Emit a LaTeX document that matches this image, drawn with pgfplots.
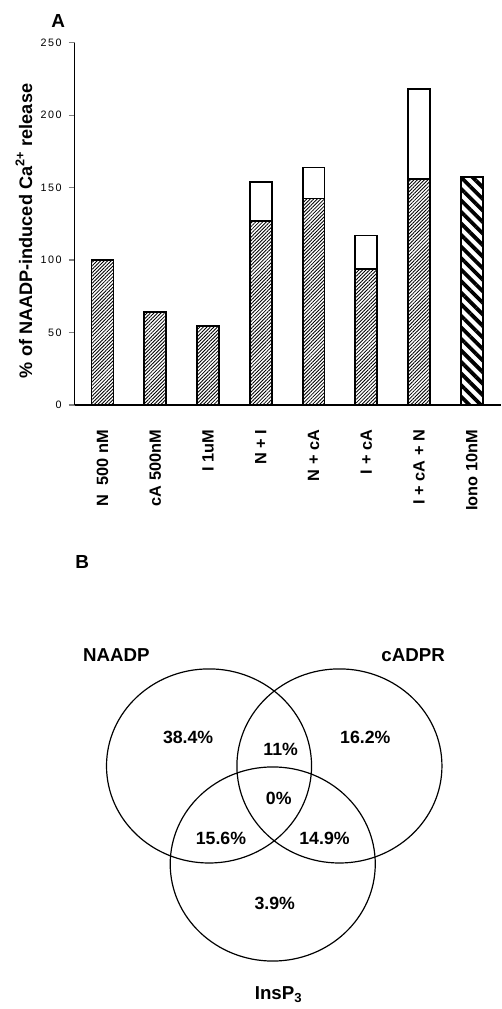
\documentclass[border=0pt]{standalone}
\usepackage{fontspec}
\setmainfont{Liberation Sans}
\newfontfamily\tickfont[LetterSpace=14]{Liberation Sans}
\usepackage{pgfplots}
\pgfplotsset{compat=1.18}
\usetikzlibrary{patterns.meta}

\begin{document}
\begin{tikzpicture}
\path (0,0) rectangle (252bp,-504.5bp);
\begin{axis}[
  at={(37.5bp,-203.5bp)}, anchor=south west,
  scale only axis, width=214bp, height=182bp,
  xmin=-0.528, xmax=7.547, ymin=0, ymax=250,
  axis x line=bottom, axis y line=left,
  axis line style={-, line width=0.8bp},
  ybar, bar width=11bp, bar shift=0pt,
  xtick={0,...,7},
  xticklabels={N\ \ 500 nM, cA 500nM, I 1uM, N + I, N + cA, I + cA, I + cA + N, Iono 10nM},
  xticklabel style={rotate=90, anchor=east, font=\bfseries\fontsize{8.2bp}{9bp}\selectfont},
  xticklabel shift=6bp,
  major x tick style={draw=none},
  ytick={0,50,...,250}, tick align=outside, major tick length=3bp,
  major y tick style={line width=0.7bp},
  yticklabel style={font=\tickfont\fontsize{5.4bp}{6bp}\selectfont},
  /pgf/number format/assume math mode=true,
  clip=false,
]
\addplot[draw=black, line width=0.9bp, fill=white] coordinates {(3,154) (4,164) (5,117) (6,218)};
\addplot[draw=black, line width=0.9bp, pattern={Lines[angle=45,distance=1.25bp,line width=0.42bp]}] coordinates {(0,100) (1,64) (2,54.5) (3,127) (4,142.5) (5,94) (6,156)};
\addplot[draw=black, line width=0.9bp, pattern={Lines[angle=-45,distance=4.1bp,line width=1.9bp]}] coordinates {(7,157.5)};
\end{axis}

\node[rotate=90, font=\bfseries\fontsize{9.1bp}{10bp}\selectfont] at (12bp,-116bp) {\% of NAADP-induced Ca\textsuperscript{2+} release};
\node[font=\bfseries\fontsize{9.5bp}{10bp}\selectfont] at (29.25bp,-10.5bp) {A};
\node[font=\bfseries\fontsize{9.5bp}{10bp}\selectfont] at (41.25bp,-282.5bp) {B};

\begin{axis}[
  at={(0bp,-280bp)}, anchor=north west,
  scale only axis, width=252bp, height=224.5bp,
  xmin=0, xmax=504, ymin=560, ymax=1009, y dir=reverse,
  hide axis, clip=false,
]
\draw[line width=0.6bp] (axis cs:210,769.5) ellipse [x radius=51.5bp, y radius=48.75bp];
\draw[line width=0.6bp] (axis cs:341,769.5) ellipse [x radius=51.5bp, y radius=48.75bp];
\draw[line width=0.6bp] (axis cs:274,868) ellipse [x radius=51.5bp, y radius=48.75bp];
\begin{scope}[every node/.style={font=\bfseries\fontsize{9.4bp}{10bp}\selectfont}]
\node at (axis cs:117,658) {NAADP};
\node at (axis cs:415,658) {cADPR};
\node at (axis cs:280,999) {InsP\textsubscript{3}};
\end{scope}
\begin{scope}[every node/.style={font=\bfseries\fontsize{8.9bp}{10bp}\selectfont}]
\node at (axis cs:189,741) {38.4\%};
\node at (axis cs:282,753) {11\%};
\node at (axis cs:367,741) {16.2\%};
\node at (axis cs:280,802) {0\%};
\node at (axis cs:222,842) {15.6\%};
\node at (axis cs:326,842) {14.9\%};
\node at (axis cs:276,908) {3.9\%};
\end{scope}
\end{axis}
\end{tikzpicture}
\end{document}
